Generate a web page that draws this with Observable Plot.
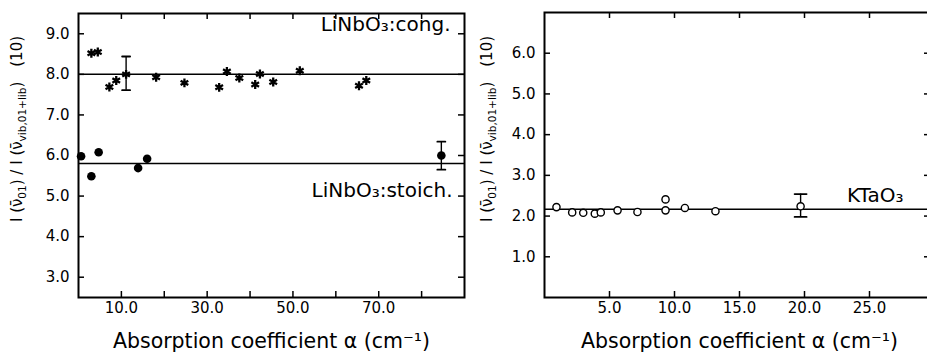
<!DOCTYPE html>
<html><head><meta charset="utf-8">
<script src="https://cdn.jsdelivr.net/npm/d3@7"></script>
<script src="https://cdn.jsdelivr.net/npm/@observablehq/plot@0.6"></script>
<style>
html,body{margin:0;padding:0;background:#fff;overflow:hidden;}
#wrap{position:relative;width:927px;height:352px;overflow:hidden;background:#fff;}
#left{position:absolute;left:0;top:0;width:470px;}
#right{position:absolute;left:470px;top:0;width:464px;}
svg{max-width:none !important;}
</style></head><body>
<div id="wrap"><div id="left"></div><div id="right"></div></div>
<script>
// ---- Left panel: LiNbO3 ----
const congX = [3.0, 4.5, 7.2, 8.8, 11.1, 18.1, 24.7, 32.8, 34.6, 37.5, 41.2, 42.3, 45.4, 51.6, 65.4, 67.1];
const congY = [8.52, 8.55, 7.69, 7.85, 8.0, 7.93, 7.79, 7.68, 8.07, 7.91, 7.75, 8.01, 7.81, 8.09, 7.72, 7.85];
const stoichX = [0.6, 3.0, 4.7, 13.9, 16.0, 84.6];
const stoichY = [5.98, 5.49, 6.08, 5.69, 5.92, 6.0];
const congFit = 8.0;
const stoichFit = 5.8;
const leftErrX = [11.1, 84.6];
const leftErrLo = [7.61, 5.65];
const leftErrHi = [8.44, 6.34];
const leftXTicks = [10, 20, 30, 40, 50, 60, 70, 80];
const leftXLabels = [10, 30, 50, 70];
const leftYTicks = [3, 4, 5, 6, 7, 8, 9];

// ---- Right panel: KTaO3 ----
const ktaoX = [0.92, 2.13, 2.98, 3.87, 4.33, 5.62, 7.15, 9.31, 9.31, 10.8, 13.15, 19.7];
const ktaoY = [2.22, 2.09, 2.08, 2.06, 2.09, 2.14, 2.10, 2.41, 2.14, 2.20, 2.12, 2.24];
const ktaoFit = 2.17;
const rightErrX = [19.7];
const rightErrLo = [1.98];
const rightErrHi = [2.54];
const rightXTicks = [5, 10, 15, 20, 25];
const rightYTicks = [1, 2, 3, 4, 5, 6];

const xTitle = "Absorption coefficient α (cm⁻¹)";
const FONT = "'DejaVu Sans', sans-serif";
const H = 352, MB = 55;

const pts = (xs, ys) => xs.map((x, i) => ({x, y: ys[i]}));
const errs = (xs, lo, hi) => xs.map((x, i) => ({x, lo: lo[i], hi: hi[i]}));
const lineShape = {draw(context, l) { context.moveTo(0, 0); context.lineTo(0, -l); }};

function panel({width, marginLeft, marginRight, marginTop, xDomain, yDomain, xTicks, xLabels, yTicks, rightTickLen, marks}) {
  const pw = width - marginLeft - marginRight, ph = H - marginTop - MB;
  return Plot.plot({
    width, height: H, marginLeft, marginRight, marginTop, marginBottom: MB,
    style: {fontFamily: FONT, fontSize: "15px", color: "black", background: "white", maxWidth: "none", overflow: "visible"},
    x: {domain: xDomain}, y: {domain: yDomain},
    marks: [
      Plot.tickX(xTicks, {x: d => d, insetTop: ph - 6, stroke: "black", strokeWidth: 1.5}),
      Plot.tickX(xTicks, {x: d => d, insetBottom: ph - 6, stroke: "black", strokeWidth: 1.5}),
      Plot.tickY(yTicks, {y: d => d, insetRight: pw - 6, stroke: "black", strokeWidth: 1.5}),
      Plot.tickY(yTicks, {y: d => d, insetLeft: pw - rightTickLen, stroke: "black", strokeWidth: 1.5}),
      Plot.axisX({ticks: xLabels, tickSize: 0, tickPadding: 5, tickFormat: d => d.toFixed(1), label: null}),
      Plot.axisY({ticks: yTicks, tickSize: 0, tickPadding: 9, tickFormat: d => d.toFixed(1), label: null}),
      Plot.text([xTitle], {frameAnchor: "bottom", dy: 50, lineAnchor: "bottom", fontSize: 20.5, fill: "black"}),
      ...marks,
      Plot.frame({stroke: "black", strokeWidth: 2})
    ]
  });
}

function errMarks(data, cap) {
  return [
    Plot.ruleX(data, {x: "x", y1: "lo", y2: "hi", stroke: "black", strokeWidth: 1.4}),
    Plot.vector(data, {x: "x", y: "lo", length: cap, rotate: 90, anchor: "middle", shape: lineShape, stroke: "black", strokeWidth: 1.8}),
    Plot.vector(data, {x: "x", y: "hi", length: cap, rotate: 90, anchor: "middle", shape: lineShape, stroke: "black", strokeWidth: 1.8})
  ];
}

const left = panel({
  width: 470, marginLeft: 78, marginRight: 6, marginTop: 13,
  xDomain: [0, 90], yDomain: [2.5, 9.5],
  xTicks: leftXTicks, xLabels: leftXLabels, yTicks: leftYTicks, rightTickLen: 6,
  marks: [
    Plot.ruleY([congFit, stoichFit], {stroke: "black", strokeWidth: 1.5}),
    ...errMarks(errs(leftErrX, leftErrLo, leftErrHi), 8),
    Plot.dot(pts(congX, congY), {x: "x", y: "y", symbol: "asterisk", r: 4.2, stroke: "black", strokeWidth: 2.3}),
    Plot.dot(pts(stoichX, stoichY), {x: "x", y: "y", r: 4.3, fill: "black"}),
    Plot.text(["LiNbO₃:cong."], {frameAnchor: "top-right", dx: -14, dy: 17, textAnchor: "end", lineAnchor: "bottom", fontSize: 20, fill: "black"}),
    Plot.text(["LiNbO₃:stoich."], {frameAnchor: "top-right", dx: -12, dy: 183, textAnchor: "end", lineAnchor: "bottom", fontSize: 20, fill: "black"})
  ]
});

const right = panel({
  width: 464, marginLeft: 74, marginRight: 0, marginTop: 12,
  xDomain: [0, 30], yDomain: [0, 7],
  xTicks: rightXTicks, xLabels: rightXTicks, yTicks: rightYTicks, rightTickLen: 10,
  marks: [
    Plot.ruleY([ktaoFit], {stroke: "black", strokeWidth: 1.5}),
    ...errMarks(errs(rightErrX, rightErrLo, rightErrHi), 12),
    Plot.dot(pts(ktaoX, ktaoY), {x: "x", y: "y", r: 3.6, stroke: "black", strokeWidth: 1.4, fill: "white"}),
    Plot.text(["KTaO₃"], {frameAnchor: "top-right", dx: -31, dy: 189, textAnchor: "end", lineAnchor: "bottom", fontSize: 20, fill: "black"})
  ]
});

function addYLabel(svg) {
  const t = d3.select(svg).append("text")
    .attr("transform", "translate(22,129) rotate(-90)")
    .attr("text-anchor", "middle")
    .attr("font-family", FONT)
    .attr("font-size", 15)
    .attr("fill", "black");
  t.append("tspan").text("I (ν\u0304");
  t.append("tspan").attr("dy", 4).attr("font-size", 10.5).text("01");
  t.append("tspan").attr("dy", -4).text(") / I (ν\u0304");
  t.append("tspan").attr("dy", 4).attr("font-size", 10.5).text("vib,01+lib");
  t.append("tspan").attr("dy", -4).text(")\u2002\u2002(10)");
}
addYLabel(left);
addYLabel(right);

document.getElementById("left").appendChild(left);
document.getElementById("right").appendChild(right);
</script>
</body></html>
